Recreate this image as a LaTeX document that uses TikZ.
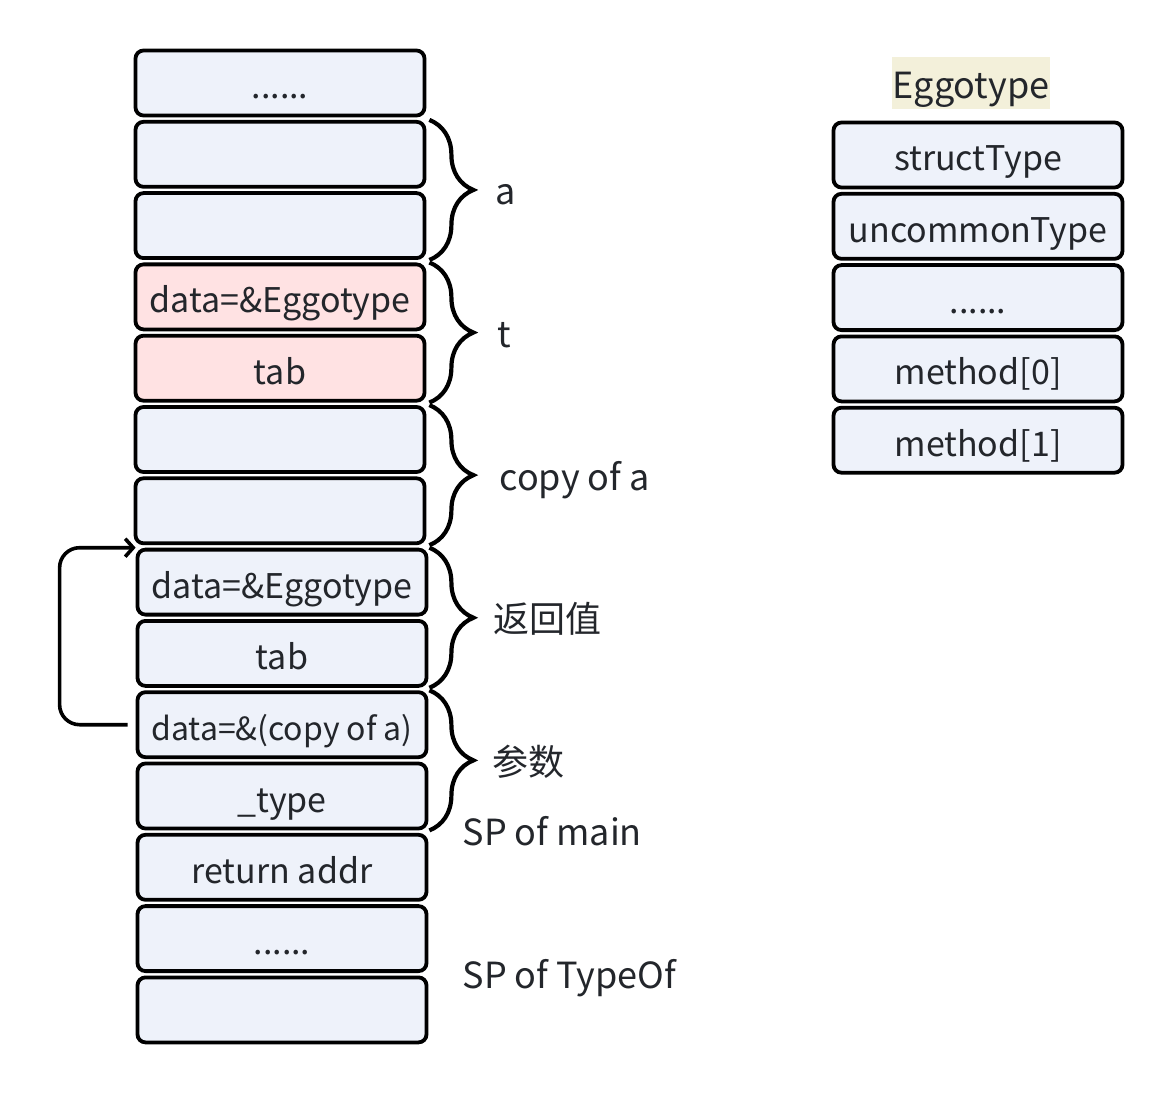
\documentclass[tikz,border=0pt]{standalone}
\usepackage{fontspec}
\setmainfont{Noto Sans CJK SC}
\usetikzlibrary{arrows.meta, positioning, calc, decorations.pathreplacing}

\definecolor{cellblue}{HTML}{EEF2FA}
\definecolor{cellpink}{HTML}{FFE2E3}
\definecolor{namebg}{HTML}{F3F0DA}
\definecolor{ink}{HTML}{23262B}

\begin{document}
\begin{tikzpicture}[
  x=1pt, y=1pt,
  cell/.style = {draw, line width=3.8pt, rounded corners=8pt, fill=cellblue, text=ink,
    minimum width=289pt, minimum height=65pt, inner sep=0pt, text height=36pt, text depth=4pt,
    font=\fontsize{34}{40}\selectfont},
  hot/.style = {cell, fill=cellpink},
  brace/.style = {line width=4.2pt, decorate, decoration={brace, amplitude=44pt}},
  tag/.style = {text=ink, inner sep=2pt, text height=33pt, text depth=3pt,
    font=\fontsize{36}{42}\selectfont},
  arrow/.style = {line width=3.6pt, rounded corners=20pt, -{Straight Barb[length=8pt, width=18pt]}},
  node distance=2.5pt
]
  \useasboundingbox (0,0) rectangle (1176,-1094);

  % stack frames
  \node[cell] (dots1) at (280,-83) {......};
  \node[cell, below=of dots1] (a1) {};
  \node[cell, below=of a1] (a2) {};
  \node[hot, below=of a2] (tdata) {data=\&Eggotype};
  \node[hot, below=of tdata] (ttab) {tab};
  \node[cell, below=of ttab] (copy1) {};
  \node[cell, below=of copy1] (copy2) {};
  \node[cell, below=of copy2, xshift=2pt] (retdata) {data=\&Eggotype};
  \node[cell, below=of retdata] (rettab) {tab};
  \node[cell, below=of rettab, font=\fontsize{32}{38}\selectfont] (argdata) {data=\&(copy of a)};
  \node[cell, below=of argdata] (argtype) {\_type};
  \node[cell, below=of argtype] (retaddr) {return addr};
  \node[cell, below=of retaddr] (dots2) {......};
  \node[cell, below=of dots2] (bottom) {};

  % Eggotype layout
  \node[cell] (st) at (978,-155) {structType};
  \node[fill=namebg, minimum width=158pt, minimum height=52pt, inner sep=0pt,
    text=ink, text height=34pt, text depth=4pt, font=\fontsize{36}{42}\selectfont,
    above=11pt of st, xshift=-7pt] (ename) {Eggotype};
  \node[cell, below=of st] (ut) {uncommonType};
  \node[cell, below=of ut] (edots) {......};
  \node[cell, below=of edots] (m0) {method[0]};
  \node[cell, below=of m0] (m1) {method[1]};

  % braces
  \draw[brace] ([xshift=3pt]a1.north east) -- ([xshift=3pt]a2.south east)
    node[tag, midway, right=62pt] {a};
  \draw[brace] ([xshift=3pt]tdata.north east) -- ([xshift=3pt]ttab.south east)
    node[tag, midway, right=64pt] {t};
  \draw[brace] ([xshift=3pt]copy1.north east) -- ([xshift=3pt]copy2.south east)
    node[tag, midway, right=66pt] {copy of a};
  \draw[brace] ([xshift=1pt]retdata.north east) -- ([xshift=1pt]rettab.south east)
    node[tag, midway, right=60pt] {返回值};
  \draw[brace] ([xshift=1pt]argdata.north east) -- ([xshift=1pt]argtype.south east)
    node[tag, midway, right=59pt] {参数};

  % stack pointers
  \node[tag, anchor=west] (spmain) at ($(argtype.south east)+(32,0)$) {SP of main};
  \node[tag, anchor=west] (sptype) at ($(dots2.south east)+(32,0)$) {SP of TypeOf};

  % data pointer of the argument
  \draw[arrow] ([xshift=-8pt]argdata.west) -- ++(-68,0) |- (retdata.north west);

\end{tikzpicture}
\end{document}
